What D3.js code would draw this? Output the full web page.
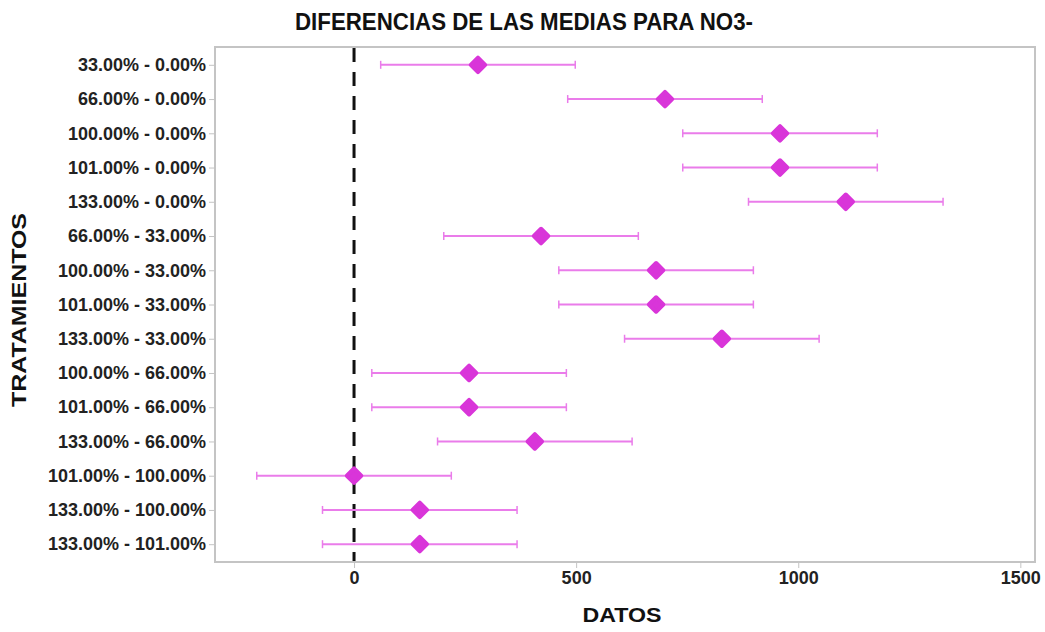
<!DOCTYPE html>
<html>
<head>
<meta charset="utf-8">
<script src="https://cdn.jsdelivr.net/npm/d3@7"></script>
<style>
  html, body { margin: 0; padding: 0; background: #fff; }
  svg { display: block; font-family: "Liberation Sans", Arial, sans-serif; }
</style>
</head>
<body>
<svg id="chart" width="1045" height="632"></svg>
<script>
// Pairwise comparisons of NO3- treatment means
const comparisons = [
  "33.00% - 0.00%", "66.00% - 0.00%", "100.00% - 0.00%", "101.00% - 0.00%",
  "133.00% - 0.00%", "66.00% - 33.00%", "100.00% - 33.00%", "101.00% - 33.00%",
  "133.00% - 33.00%", "100.00% - 66.00%", "101.00% - 66.00%", "133.00% - 66.00%",
  "101.00% - 100.00%", "133.00% - 100.00%", "133.00% - 101.00%"
];
const meanDiff = [279, 700, 959, 959, 1107, 421, 680, 680, 828, 259, 259, 407, 0, 148, 148];
const lowerCI  = [60, 481, 740, 740, 888, 202, 461, 461, 609, 40, 40, 188, -219, -71, -71];
const upperCI  = [498, 919, 1178, 1178, 1326, 640, 899, 899, 1047, 478, 478, 626, 219, 367, 367];
const xTicks = [0, 500, 1000, 1500];

const rows = comparisons.map((c, i) => ({ label: c, diff: meanDiff[i], lo: lowerCI[i], hi: upperCI[i] }));

const svg = d3.select("#chart");
const m = { left: 215, right: 1035, top: 47, bottom: 562 };

const x = d3.scaleLinear().domain([-313, 1533]).range([m.left, m.right]);
const y = d3.scalePoint().domain(comparisons).range([m.top, m.bottom]).padding(0.52);

// frame
svg.append("rect")
  .attr("x", m.left).attr("y", m.top)
  .attr("width", m.right - m.left).attr("height", m.bottom - m.top)
  .attr("fill", "none").attr("stroke", "#c4c4c4").attr("stroke-width", 2);

// x axis
const gx = svg.append("g").attr("transform", `translate(0,${m.bottom})`)
  .call(d3.axisBottom(x).tickValues(xTicks).tickFormat(d3.format("d"))
    .tickSize(6).tickSizeOuter(0).tickPadding(3));
gx.select(".domain").remove();
gx.selectAll(".tick line").attr("stroke", "#c4c4c4").attr("stroke-width", 1);
gx.selectAll(".tick text").attr("fill", "#222").attr("font-size", 18).attr("font-weight", "bold");

// y axis
const gy = svg.append("g").attr("transform", `translate(${m.left},0)`)
  .call(d3.axisLeft(y).tickSize(6).tickSizeOuter(0).tickPadding(3));
gy.select(".domain").remove();
gy.selectAll(".tick line").attr("stroke", "#c4c4c4").attr("stroke-width", 1);
gy.selectAll(".tick text").attr("fill", "#222").attr("font-size", 18).attr("font-weight", "bold");

// reference line at zero difference
svg.append("line")
  .attr("x1", x(0)).attr("x2", x(0))
  .attr("y1", m.top + 1).attr("y2", m.bottom - 1)
  .attr("stroke", "#111").attr("stroke-width", 3)
  .attr("stroke-dasharray", "14,10");

// confidence intervals
const g = svg.append("g");
g.selectAll("line.ci").data(rows).join("line")
  .attr("class", "ci")
  .attr("x1", d => x(d.lo)).attr("x2", d => x(d.hi))
  .attr("y1", d => y(d.label)).attr("y2", d => y(d.label))
  .attr("stroke", "#ea7cea").attr("stroke-width", 2);
["lo", "hi"].forEach(k => {
  g.selectAll("line.cap-" + k).data(rows).join("line")
    .attr("class", "cap-" + k)
    .attr("x1", d => x(d[k])).attr("x2", d => x(d[k]))
    .attr("y1", d => y(d.label) - 4).attr("y2", d => y(d.label) + 4)
    .attr("stroke", "#ea7cea").attr("stroke-width", 1.5);
});

// mean difference markers
g.selectAll("path.pt").data(rows).join("path")
  .attr("class", "pt")
  .attr("transform", d => `translate(${x(d.diff)},${y(d.label)}) rotate(45)`)
  .attr("d", d3.symbol(d3.symbolSquare, 105))
  .attr("fill", "#d935d9")
  .attr("stroke", "#d935d9").attr("stroke-width", 4).attr("stroke-linejoin", "round");

// titles
svg.append("text")
  .attr("x", 524).attr("y", 30).attr("text-anchor", "middle")
  .attr("font-size", 24).attr("font-weight", "bold").attr("fill", "#111")
  .attr("textLength", 458).attr("lengthAdjust", "spacingAndGlyphs")
  .text("DIFERENCIAS DE LAS MEDIAS PARA NO3-");
svg.append("text")
  .attr("x", 622).attr("y", 622).attr("text-anchor", "middle")
  .attr("font-size", 20).attr("font-weight", "bold").attr("fill", "#111")
  .attr("textLength", 79).attr("lengthAdjust", "spacingAndGlyphs")
  .text("DATOS");
svg.append("text")
  .attr("transform", "translate(26,310) rotate(-90)").attr("text-anchor", "middle")
  .attr("font-size", 21).attr("font-weight", "bold").attr("fill", "#111")
  .attr("textLength", 194).attr("lengthAdjust", "spacingAndGlyphs")
  .text("TRATAMIENTOS");
</script>
</body>
</html>
